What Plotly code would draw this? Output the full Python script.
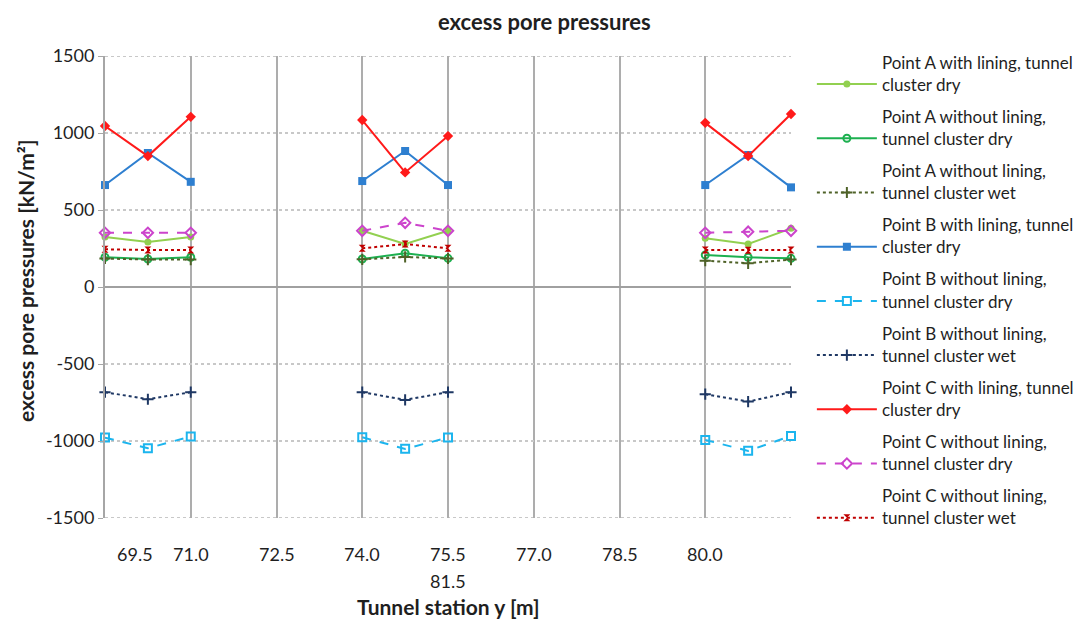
import plotly.graph_objects as go

# Tunnel stations (m) of the three measured clusters
stations = [69.5, 70.25, 71.0, 74.0, 74.75, 75.5, 80.0, 80.75, 81.5]

# Excess pore pressures (kN/m²) per point and configuration
a_lining_dry = [325, 293, 325, 365, 280, 365, 316, 279, 381]
a_nolining_dry = [193, 182, 193, 182, 219, 186, 208, 193, 186]
a_nolining_wet = [185, 178, 178, 180, 195, 185, 171, 154, 178]
b_lining_dry = [662, 870, 683, 688, 883, 662, 662, 857, 647]
b_nolining_dry = [-978, -1047, -971, -976, -1051, -978, -993, -1064, -967]
b_nolining_wet = [-683, -729, -683, -683, -733, -683, -696, -744, -683]
c_lining_dry = [1045, 850, 1105, 1084, 744, 980, 1066, 850, 1123]
c_nolining_dry = [352, 352, 352, 365, 417, 365, 352, 359, 365]
c_nolining_wet = [245, 240, 240, 251, 279, 251, 240, 238, 240]

x_ticks = [69.5, 71.0, 72.5, 74.0, 75.5, 77.0, 78.5, 80.0, 81.5]
x_tick_text = ["69.5", "71.0", "72.5", "74.0", "75.5", "77.0", "78.5", "80.0", "81.5"]
y_ticks = [1500, 1000, 500, 0, -500, -1000, -1500]
y_tick_text = ["1500", "1000", "500", "0", "-500", "-1000", "-1500"]

FONT = "Lato"
TXT = "#1F1F1F"
L, R, T, B = 105, 296, 56, 103  # plot margins in px
PW, PH = 1091 - L - R, 621 - T - B


def with_gaps(vals):
    """Break the line between the three station clusters."""
    xs, ys = [], []
    for i in range(0, len(vals), 3):
        xs += stations[i:i + 3] + [None]
        ys += vals[i:i + 3] + [None]
    return xs[:-1], ys[:-1]


series = [
    ("Point A with lining, tunnel<br>cluster dry", a_lining_dry, "#92D050", "solid", "circle", 7),
    ("Point A without lining,<br>tunnel cluster dry", a_nolining_dry, "#1DB050", "solid", "circle-open", 7),
    ("Point A without lining,<br>tunnel cluster wet", a_nolining_wet, "#4F6228", "dot", "cross-thin", 8),
    ("Point B with lining, tunnel<br>cluster dry", b_lining_dry, "#2E7FD0", "solid", "square", 8),
    ("Point B without lining,<br>tunnel cluster dry", b_nolining_dry, "#1CB5EE", "dash", "square-open", 8),
    ("Point B without lining,<br>tunnel cluster wet", b_nolining_wet, "#1F3864", "dot", "cross-thin", 8),
    ("Point C with lining, tunnel<br>cluster dry", c_lining_dry, "#FF1A1A", "solid", "diamond", 8),
    ("Point C without lining,<br>tunnel cluster dry", c_nolining_dry, "#CC44CC", "dash", "diamond-open", 8),
    ("Point C without lining,<br>tunnel cluster wet", c_nolining_wet, "#C00000", "dot", "hourglass", 7),
]

fig = go.Figure()
for i, (name, vals, color, dash, symbol, size) in enumerate(series):
    xs, ys = with_gaps(vals)
    fig.add_trace(go.Scatter(
        x=xs, y=ys, name=name, mode="lines+markers",
        connectgaps=False, cliponaxis=False, legendgroup=f"g{i}",
        line=dict(color=color, width=2, dash=dash),
        marker=dict(color=color, symbol=symbol, size=size,
                    line=dict(color=color, width=2 if "open" in symbol or "thin" in symbol else 0)),
    ))

tick_font = dict(size=18, color=TXT, family=FONT)

# station labels below the axis (last one wraps to a second row)
annotations = []
for xv, txt in zip(x_ticks, x_tick_text):
    if txt == "81.5":
        annotations.append(dict(x=75.5, y=0, xref="x", yref="paper", text=txt, showarrow=False,
                                yanchor="top", yshift=-50, font=tick_font))
    else:
        annotations.append(dict(x=xv, y=0, xref="x", yref="paper", text=txt, showarrow=False,
                                yanchor="top", yshift=-23, xshift=30 if xv == 69.5 else 0,
                                font=tick_font))

annotations.append(dict(x=(547 - L) / PW, y=(621 - B - 21) / PH, xref="paper", yref="paper",
                        xanchor="center", yanchor="middle",
                        text="<b>excess pore pressures</b>", showarrow=False,
                        font=dict(size=22, color=TXT, family=FONT)))
annotations.append(dict(x=0, y=0.5, xref="paper", yref="paper", text="<b>excess pore pressures [kN/m²]</b>",
                        showarrow=False, textangle=-90, xanchor="center", yanchor="middle",
                        xshift=-80, yshift=6,
                        font=dict(size=21, color=TXT, family=FONT)))
annotations.append(dict(x=75.5, y=0, xref="x", yref="paper", text="<b>Tunnel station y [m]</b>",
                        showarrow=False, xanchor="center", yanchor="middle", yshift=-88,
                        font=dict(size=21, color=TXT, family=FONT)))

# dotted boundary lines at the top and bottom of the value range
shapes = [dict(type="line", xref="paper", yref="y", x0=0, x1=1, y0=yv, y1=yv,
               line=dict(color="#C8C8C8", width=2, dash="dot"), layer="below")
          for yv in (1500, -1500)]

fig.update_layout(
    width=1091, height=621,
    margin=dict(l=L, r=R, t=T, b=B),
    paper_bgcolor="white", plot_bgcolor="white",
    font=dict(family=FONT, color=TXT, size=15),
    showlegend=True,
    legend=dict(x=(816 - L) / PW, y=1.025, xanchor="left", yanchor="top",
                font=dict(size=17, color=TXT, family=FONT),
                tracegroupgap=7, valign="bottom", itemwidth=60,
                maxheight=600, bgcolor="rgba(0,0,0,0)"),
    annotations=annotations,
    shapes=shapes,
    xaxis=dict(range=[69.5, 81.5], tickvals=x_ticks, ticktext=[""] * len(x_ticks),
               showgrid=True, gridcolor="#ADADAD", gridwidth=2,
               zeroline=False, showline=False, ticks=""),
    yaxis=dict(range=[-1500, 1500], tickvals=y_ticks, ticktext=y_tick_text,
               tickfont=tick_font,
               showgrid=True, gridcolor="#C8C8C8", gridwidth=2, griddash="dot",
               zeroline=True, zerolinecolor="#A0A0A0", zerolinewidth=2,
               showline=True, linecolor="#A6A6A6", linewidth=2,
               ticks="outside", ticklen=5, tickcolor="#A6A6A6"),
)

fig.write_html("out.html")
